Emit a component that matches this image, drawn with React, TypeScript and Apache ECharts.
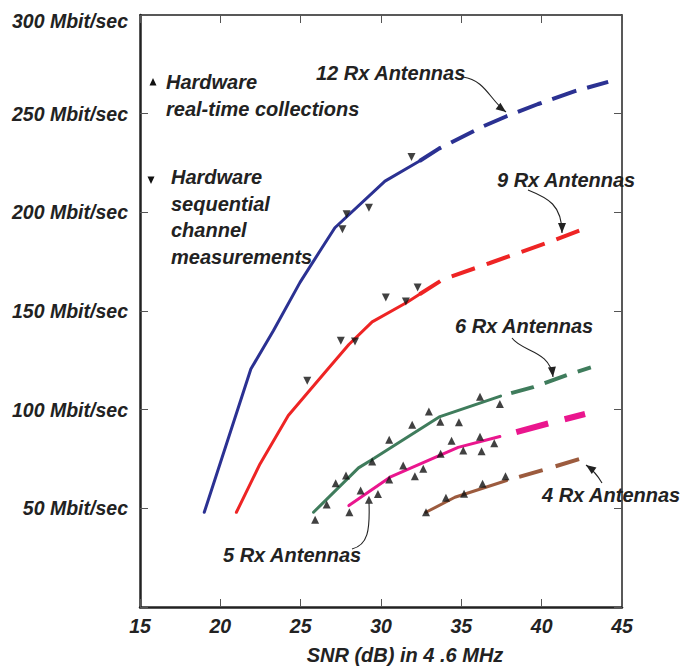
import React, { useEffect, useRef } from "react";
import * as echarts from "echarts";

// ---- Data (SNR dB, Mbit/sec) ----
const xTicks = [15, 20, 25, 30, 35, 40, 45];
const yTicks = [0, 50, 100, 150, 200, 250, 300];

const rx12Solid = [[19.0, 48], [21.9, 120.6], [23.3, 140], [24.96, 164.5], [26.2, 180.4], [27.13, 192.2], [30.25, 215.8], [32.4, 226]];
const rx12Dashed = [[32.4, 226], [33.63, 232.4], [36.36, 243.6], [37.82, 248.7], [39.78, 254.9], [42.07, 261.4], [44.14, 266.1]];

const rx9Solid = [[21.0, 48], [22.47, 72.5], [24.23, 97], [26.6, 119.7], [28.0, 133], [29.45, 144.5], [31.6, 154.3], [32.4, 158.5]];
const rx9Dashed = [[32.4, 158.5], [33.87, 166.1], [36.74, 174.2], [38.13, 178.2], [40.26, 184.3], [42.38, 190.9]];

const rx6Solid = [[25.8, 48], [28.6, 70.5], [29.4, 74.5], [33.67, 96.5], [37.44, 106.9]];
const rx6Dashed = [[37.44, 106.9], [39.47, 111.4], [41.58, 117.6], [43.06, 121.4]];

const rx5Solid = [[28.0, 51.4], [30.56, 65.8], [34.8, 80.9], [37.4, 86.4]];
const rx5Dashed = [[37.4, 86.4], [40.4, 93.0], [42.7, 97.8]];

const rx4Solid = [[32.8, 48], [34.6, 55.6], [37.82, 64.1]];
const rx4Dashed = [[37.82, 64.1], [40.2, 69.7], [42.33, 74.9]];

const realTimePoints = [
  [25.9, 44.2], [26.62, 51.9], [27.18, 62.7], [27.82, 66.6], [28.03, 48.0], [28.73, 59.0],
  [29.25, 54.3], [29.81, 57.3], [29.45, 73.7], [30.51, 84.7], [30.51, 64.6], [31.94, 92.3],
  [31.38, 71.7], [32.11, 66.3], [32.63, 70.0], [32.98, 99.1], [33.69, 93.9], [33.71, 77.6],
  [34.39, 84.3], [34.85, 93.6], [35.12, 79.3], [36.16, 106.6], [36.16, 86.3], [36.26, 78.9],
  [37.05, 83.0], [37.4, 102.9], [32.8, 48.0], [34.04, 55.3], [35.17, 57.4], [36.32, 62.4],
  [37.75, 66.3],
];
const sequentialPoints = [
  [31.9, 228], [27.86, 199], [29.25, 202.3], [27.6, 191.4], [30.3, 156.8], [32.28, 161.9],
  [31.55, 154.8], [27.5, 134.9], [28.38, 134.5], [25.41, 114.7],
];

const COLORS = {
  blue: "#2b3192",
  red: "#ee2424",
  green: "#3f7c5c",
  magenta: "#ea168e",
  brown: "#9c5b3e",
  text: "#222222",
};

const FONT = "Liberation Sans";

function txt(text: string, x: number, y: number, size = 20, extra: any = {}) {
  return {
    type: "text",
    z: 10,
    style: {
      text,
      x,
      y,
      fill: COLORS.text,
      fontSize: size,
      fontWeight: "bold",
      fontStyle: "italic",
      fontFamily: FONT,
      verticalAlign: "middle",
      align: "left",
      ...extra,
    },
  };
}

function arrow(p0: number[], c1: number[], c2: number[], p3: number[], head = true) {
  const els: any[] = [
    {
      type: "bezierCurve",
      z: 10,
      shape: { x1: p0[0], y1: p0[1], cpx1: c1[0], cpy1: c1[1], cpx2: c2[0], cpy2: c2[1], x2: p3[0], y2: p3[1] },
      style: { stroke: COLORS.text, lineWidth: 1.1, fill: null },
    },
  ];
  if (head) {
    const dx = p3[0] - c2[0];
    const dy = p3[1] - c2[1];
    const len = Math.sqrt(dx * dx + dy * dy) || 1;
    const ux = dx / len, uy = dy / len;
    const L = 10, W = 4;
    const bx = p3[0] - ux * L, by = p3[1] - uy * L;
    els.push({
      type: "polygon",
      z: 10,
      shape: { points: [[p3[0], p3[1]], [bx - uy * W, by + ux * W], [bx + uy * W, by - ux * W]] },
      style: { fill: COLORS.text },
    });
  }
  return els;
}

function solid(data: number[][], color: string) {
  return {
    type: "line",
    data,
    symbol: "none",
    z: 3,
    lineStyle: { color, width: 3, cap: "round", join: "round" },
  };
}

function dashed(data: number[][], color: string, width: number, dash: number[], offset: number) {
  return {
    type: "line",
    data,
    symbol: "none",
    z: 3,
    lineStyle: { color, width, type: dash, dashOffset: offset, cap: "butt" },
  };
}

export default function App() {
  const ref = useRef<HTMLDivElement>(null);

  useEffect(() => {
    if (!ref.current) return;
    const chart = echarts.init(ref.current, null, { renderer: "svg" });

    const labelStyle = {
      color: COLORS.text,
      fontSize: 19.5,
      fontWeight: "bold",
      fontStyle: "italic",
      fontFamily: FONT,
    };

    const graphics: any[] = [
      // legend markers
      { type: "polygon", z: 10, shape: { points: [[153, 78], [149.5, 85.5], [156.5, 85.5]] }, style: { fill: "#111" } },
      { type: "polygon", z: 10, shape: { points: [[147.5, 176.5], [154.5, 176.5], [151, 184]] }, style: { fill: "#111" } },
      txt("Hardware", 166, 82),
      txt("real-time collections", 166, 109),
      txt("Hardware\nsequential\nchannel\nmeasurements", 171, 217, 20, { lineHeight: 26.5 }),
      txt("12 Rx Antennas", 316, 73),
      txt("9 Rx Antennas", 497, 180),
      txt("6 Rx Antennas", 455, 326),
      txt("5 Rx Antennas", 223, 555),
      txt("4 Rx Antennas", 542, 495),
      txt("SNR (dB) in 4 .6 MHz", 405, 655, 20, { align: "center" }),
      ...arrow([463, 77], [485, 80], [490, 100], [506, 112]),
      ...arrow([528, 190], [548, 198], [562, 205], [562, 233]),
      ...arrow([512, 338], [522, 352], [550, 350], [553, 377]),
      ...arrow([352, 549], [368, 545], [370, 530], [369, 503], false),
      ...arrow([602, 483], [598, 476], [593, 470], [586, 465]),
    ];

    chart.setOption({
      animation: false,
      backgroundColor: "#ffffff",
      grid: { left: 140, right: 58, top: 15, bottom: 64, containLabel: false },
      xAxis: [
        {
          type: "value",
          min: xTicks[0],
          max: xTicks[xTicks.length - 1],
          interval: 5,
          position: "bottom",
          axisLine: { show: true, onZero: false, lineStyle: { color: COLORS.text, width: 2.5 } },
          axisTick: { show: true, inside: true, length: 8, lineStyle: { color: "#555", width: 1 } },
          axisLabel: { ...labelStyle, margin: 9 },
          splitLine: { show: false },
        },
        {
          type: "value",
          min: xTicks[0],
          max: xTicks[xTicks.length - 1],
          interval: 5,
          position: "top",
          axisLine: { show: true, onZero: false, lineStyle: { color: COLORS.text, width: 1.5 } },
          axisTick: { show: true, inside: true, length: 8, lineStyle: { color: "#555", width: 1 } },
          axisLabel: { show: false },
          splitLine: { show: false },
        },
      ],
      yAxis: [
        {
          type: "value",
          min: yTicks[0],
          max: yTicks[yTicks.length - 1],
          interval: 50,
          position: "left",
          axisLine: { show: true, onZero: false, lineStyle: { color: COLORS.text, width: 2.5 } },
          axisTick: { show: true, inside: true, length: 8, lineStyle: { color: "#555", width: 1 } },
          axisLabel: {
            ...labelStyle,
            margin: 12,
            formatter: (v: number) =>
              v === 0 ? "" : v === yTicks[yTicks.length - 1] ? `{top|${v} Mbit/sec}` : `${v} Mbit/sec`,
            rich: {
              top: { ...labelStyle, padding: [11, 0, 0, 0] },
            },
          },
          splitLine: { show: false },
        },
        {
          type: "value",
          min: yTicks[0],
          max: yTicks[yTicks.length - 1],
          interval: 50,
          position: "right",
          axisLine: { show: true, onZero: false, lineStyle: { color: COLORS.text, width: 1.5 } },
          axisTick: { show: true, inside: true, length: 8, lineStyle: { color: "#555", width: 1 } },
          axisLabel: { show: false },
          splitLine: { show: false },
        },
      ],
      series: [
        solid(rx12Solid, COLORS.blue),
        dashed(rx12Dashed, COLORS.blue, 4, [25.5, 11.2], 0),
        solid(rx9Solid, COLORS.red),
        dashed(rx9Dashed, COLORS.red, 4, [24.5, 12.5], 0),
        solid(rx6Solid, COLORS.green),
        dashed(rx6Dashed, COLORS.green, 4, [23.5, 11.5], 23.5),
        solid(rx5Solid, COLORS.magenta),
        dashed(rx5Dashed, COLORS.magenta, 6, [33, 17], 33),
        solid(rx4Solid, COLORS.brown),
        dashed(rx4Dashed, COLORS.brown, 4, [24.5, 13.5], 24.5),
        {
          type: "scatter",
          data: realTimePoints,
          symbol: "triangle",
          symbolSize: 8,
          z: 5,
          itemStyle: { color: "#111" },
        },
        {
          type: "scatter",
          data: sequentialPoints,
          symbol: "triangle",
          symbolRotate: 180,
          symbolSize: 8,
          z: 5,
          itemStyle: { color: "#111" },
        },
      ],
      graphic: graphics,
    });

    return () => chart.dispose();
  }, []);

  return (
    <div
      ref={ref}
      style={{ position: "fixed", left: 0, top: 0, width: 680, height: 671, background: "#fff" }}
    />
  );
}
